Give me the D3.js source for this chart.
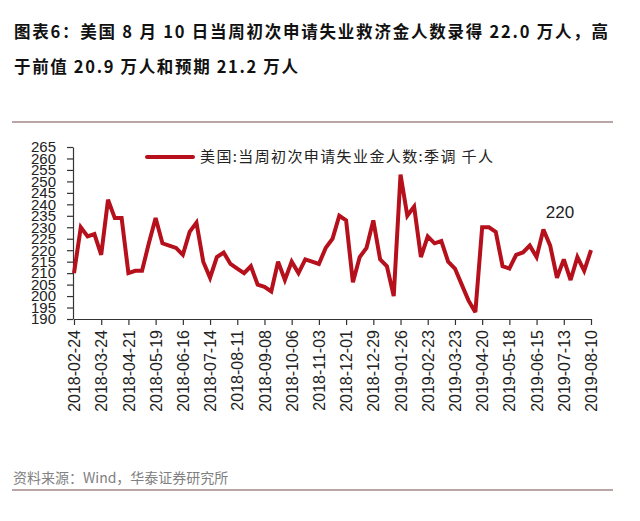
<!DOCTYPE html>
<html><head><meta charset="utf-8">
<script src="https://cdn.jsdelivr.net/npm/d3@7"></script>
<style>
html,body{margin:0;padding:0;background:#fff;}
svg{display:block;}
</style></head>
<body>
<script>
// ---- data ----
const titleLines = ["图表6：美国 8 月 10 日当周初次申请失业救济金人数录得 22.0 万人，高", "于前值 20.9 万人和预期 21.2 万人"];
const seriesName = "美国:当周初次申请失业金人数:季调 千人";
const sourceText = "资料来源：Wind，华泰证券研究所";
const startDate = "2018-02-24";
const claims = [210,230,226,227,218,242,234,234,210,211,211,223,234,223,222,221,218,228,232,215,
  208,217,219,214,212,210,213,205,204,202,215,207,215,210,216,215,214,221,225,235,
  233,206,217,221,233,216,213,200,253,235,239,217,226,223,224,215,212,205,198,193,
  230,230,228,213,212,218,219,222,217,229,222,208,216,207,217,211,220];
const tickLabels = ["2018-02-24","2018-03-24","2018-04-21","2018-05-19","2018-06-16","2018-07-14","2018-08-11","2018-09-08","2018-10-06","2018-11-03","2018-12-01","2018-12-29","2019-01-26","2019-02-23","2019-03-23","2019-04-20","2019-05-18","2019-06-15","2019-07-13","2019-08-10"];
const yTicks = [190,195,200,205,210,215,220,225,230,235,240,245,250,255,260,265];
const lastLabel = "220";

// ---- build ----
const W = 640, H = 521;
const parse = d3.utcParse("%Y-%m-%d");
const fmt = d3.utcFormat("%Y-%m-%d");
const start = parse(startDate);
const dates = claims.map((_, i) => d3.utcDay.offset(start, 7 * i));
const data = claims.map((v, i) => ({date: dates[i], value: v}));

const svg = d3.select("body").append("svg").attr("width", W).attr("height", H);
svg.append("rect").attr("width", W).attr("height", H).attr("fill", "#fff");

// title
const tl = [{t: titleLines[0], y: 38, len: 594}, {t: titleLines[1], y: 73, len: 284}];
tl.forEach(d => {
  svg.append("text").attr("x", 14).attr("y", d.y)
    .attr("font-family", "'Noto Sans CJK SC', sans-serif").attr("font-weight", "bold")
    .attr("font-size", 16.5).attr("fill", "#111")
    .attr("textLength", d.len).attr("lengthAdjust", "spacing")
    .text(d.t);
});

// rules
svg.append("line").attr("x1", 12).attr("x2", 613).attr("y1", 122).attr("y2", 122)
  .attr("stroke", "#a58888").attr("stroke-width", 1.3);
svg.append("line").attr("x1", 12).attr("x2", 613).attr("y1", 490).attr("y2", 490)
  .attr("stroke", "#a58888").attr("stroke-width", 1.3);

// source
svg.append("text").attr("x", 13).attr("y", 483)
  .attr("font-family", "'Noto Sans CJK SC', sans-serif").attr("font-size", 14)
  .attr("fill", "#808080").text(sourceText);

// scales
const x = d3.scaleUtc().domain(d3.extent(dates)).range([74, 591]);
const y = d3.scaleLinear().domain([190, 265]).range([319, 147]);

// axes
const ya = svg.append("g").attr("transform", "translate(73,0)")
  .call(d3.axisLeft(y).tickValues(yTicks).tickSize(6).tickSizeOuter(0).tickPadding(11));
ya.selectAll("text").attr("font-family", "'Liberation Sans', Arial, sans-serif").attr("font-size", 15).attr("fill", "#222");
ya.selectAll("line,path").attr("stroke", "#333").attr("stroke-width", 1.2);

const xa = svg.append("g").attr("transform", "translate(0,319)")
  .call(d3.axisBottom(x).tickValues(tickLabels.map(parse)).tickFormat(fmt).tickSize(6).tickSizeOuter(0));
xa.selectAll("line,path").attr("stroke", "#333").attr("stroke-width", 1.2);
xa.selectAll("text")
  .attr("font-family", "'Liberation Sans', Arial, sans-serif").attr("font-size", 16).attr("fill", "#222")
  .attr("text-anchor", "end").attr("dy", "0.35em")
  .attr("transform", "translate(0,11) rotate(-90)").attr("x", 0).attr("y", 0);

// line
svg.append("path").datum(data)
  .attr("fill", "none").attr("stroke", "#b5101b").attr("stroke-width", 4)
  .attr("stroke-linejoin", "miter").attr("stroke-miterlimit", 3)
  .attr("d", d3.line().x(d => x(d.date)).y(d => y(d.value)));

// last value label
const last = data[data.length - 1];
svg.append("text").attr("x", x(last.date) - 31).attr("y", y(last.value) - 32)
  .attr("text-anchor", "middle")
  .attr("font-family", "'Liberation Sans', Arial, sans-serif").attr("font-size", 17).attr("fill", "#222")
  .text(lastLabel);

// legend
svg.append("line").attr("x1", 147).attr("x2", 193).attr("y1", 157).attr("y2", 157)
  .attr("stroke", "#b5101b").attr("stroke-width", 4).attr("stroke-linecap", "round");
svg.append("text").attr("x", 200).attr("y", 162)
  .attr("font-family", "'Noto Sans CJK SC', sans-serif").attr("font-size", 15).attr("fill", "#222")
  .attr("textLength", 293).attr("lengthAdjust", "spacing")
  .text(seriesName);
</script>
</body></html>
